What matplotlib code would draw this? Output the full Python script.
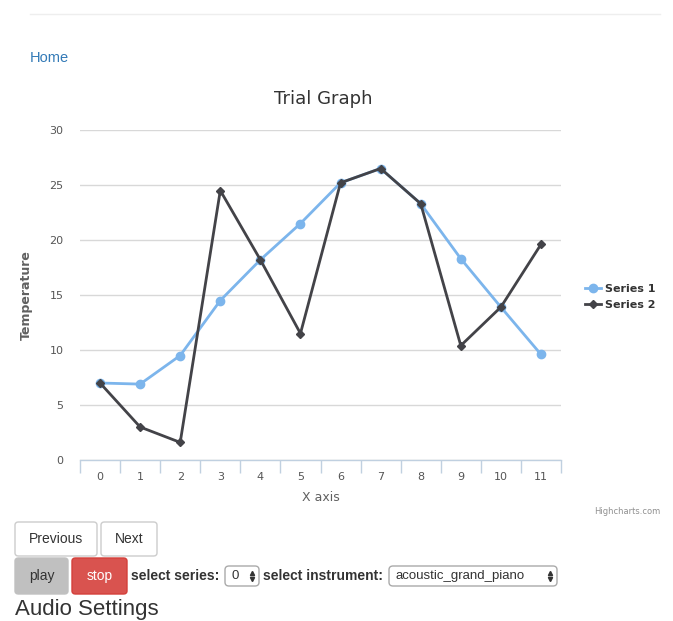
import matplotlib.pyplot as plt
from matplotlib.patches import FancyBboxPatch

# Chart data
categories = ["0", "1", "2", "3", "4", "5", "6", "7", "8", "9", "10", "11"]
series1 = [7.0, 6.9, 9.5, 14.5, 18.2, 21.5, 25.2, 26.5, 23.3, 18.3, 13.9, 9.6]
series2 = [7.0, 3.0, 1.6, 24.5, 18.2, 11.5, 25.2, 26.5, 23.3, 10.4, 13.9, 19.6]
series_names = ["Series 1", "Series 2"]
y_ticks = [0, 5, 10, 15, 20, 25, 30]

W, H = 673, 621


def fx(x):
    return x / W


def fy(y):
    return 1 - y / H


fig = plt.figure(figsize=(W / 100, H / 100), dpi=100)
fig.patch.set_facecolor("white")

# Plot area
ax = fig.add_axes([fx(80), fy(460), (561 - 80) / W, (460 - 130) / H])
xs = list(range(len(categories)))
ax.plot(xs, series1, color="#7cb5ec", linewidth=2, marker="o", markersize=6,
        label=series_names[0], zorder=3)
ax.plot(xs, series2, color="#434348", linewidth=2, marker="D", markersize=4.5,
        label=series_names[1], zorder=4)

ax.set_xlim(-0.5, len(categories) - 0.5)
ax.set_ylim(0, 30)
ax.set_yticks(y_ticks)
ax.set_xticks(xs)
ax.set_xticklabels(categories)
ax.set_xticks([i - 0.5 for i in range(len(categories) + 1)], minor=True)
ax.tick_params(axis="x", which="major", length=0, pad=9, labelsize=8,
               labelcolor="#555555")
ax.tick_params(axis="x", which="minor", length=9, color="#C0D0E0", width=1)
ax.tick_params(axis="y", length=0, pad=12, labelsize=8, labelcolor="#555555")
ax.grid(axis="y", color="#D8D8D8", linewidth=1)
ax.set_axisbelow(True)
for side in ["top", "right", "left"]:
    ax.spines[side].set_visible(False)
ax.spines["bottom"].set_color("#C0D0E0")
ax.spines["bottom"].set_linewidth(1)
ax.spines["bottom"].set_zorder(0)

ax.set_xlabel("X axis", fontsize=9, color="#606060", labelpad=6)
ax.set_ylabel("Temperature", fontsize=9, color="#606060", fontweight="bold",
              labelpad=12)

leg = ax.legend(loc="center left", bbox_to_anchor=(1.03, 0.495), frameon=False,
                fontsize=8, handlelength=1.4, handletextpad=0.4,
                labelspacing=0.55)
for t in leg.get_texts():
    t.set_fontweight("bold")
    t.set_color("#333333")

fig.text(fx(323), fy(99), "Trial Graph", ha="center", va="center",
         fontsize=13, color="#333333")
fig.text(fx(660), fy(512), "Highcharts.com", ha="right", va="center",
         fontsize=6, color="#909090")

# Page elements around the chart
fig.add_artist(plt.Line2D([fx(30), fx(660)], [fy(14), fy(14)],
                          color="#eeeeee", linewidth=1))
fig.text(fx(30), fy(58), "Home", ha="left", va="center", fontsize=10.5,
         color="#337ab7", family="Liberation Sans")


def button(x0, y0, x1, y1, label, face, edge, tcolor):
    fig.add_artist(FancyBboxPatch((fx(x0), fy(y1)), fx(x1 - x0), (y1 - y0) / H,
                                  boxstyle="round,pad=0,rounding_size=0.005",
                                  facecolor=face, edgecolor=edge, linewidth=1,
                                  transform=fig.transFigure))
    fig.text(fx((x0 + x1) / 2), fy((y0 + y1) / 2), label, ha="center",
             va="center", fontsize=10, color=tcolor, family="Liberation Sans")


button(15, 522, 97, 556, "Previous", "white", "#cccccc", "#333333")
button(101, 522, 157, 556, "Next", "white", "#cccccc", "#333333")
button(15, 558, 68, 594, "play", "#c0c0c0", "#c0c0c0", "#333333")
button(72, 558, 127, 594, "stop", "#d9534f", "#d43f3a", "white")

fig.text(fx(131), fy(576), "select series:", ha="left", va="center",
         fontsize=10, fontweight="bold", color="#333333", family="Liberation Sans")
fig.text(fx(263), fy(576), "select instrument:", ha="left", va="center",
         fontsize=10, fontweight="bold", color="#333333", family="Liberation Sans")


def select_box(x0, x1, label):
    fig.add_artist(FancyBboxPatch((fx(x0), fy(586)), fx(x1 - x0), 20 / H,
                                  boxstyle="round,pad=0,rounding_size=0.006",
                                  facecolor="white", edgecolor="#aaaaaa",
                                  linewidth=1, transform=fig.transFigure))
    fig.text(fx(x0 + 6), fy(576), label, ha="left", va="center", fontsize=9.5,
             color="#333333", family="Liberation Sans")
    # up/down arrows of the select control
    fig.add_artist(plt.Line2D([fx(x1 - 7)], [fy(573)], marker="^",
                              markersize=3, color="#333333", linestyle="none",
                              transform=fig.transFigure))
    fig.add_artist(plt.Line2D([fx(x1 - 7)], [fy(579)], marker="v",
                              markersize=3, color="#333333", linestyle="none",
                              transform=fig.transFigure))


select_box(225, 259, "0")
select_box(389, 557, "acoustic_grand_piano")

fig.text(fx(15), fy(609), "Audio Settings", ha="left", va="center",
         fontsize=16, color="#333333", family="Liberation Sans")

fig.savefig("out.png", dpi=100)
